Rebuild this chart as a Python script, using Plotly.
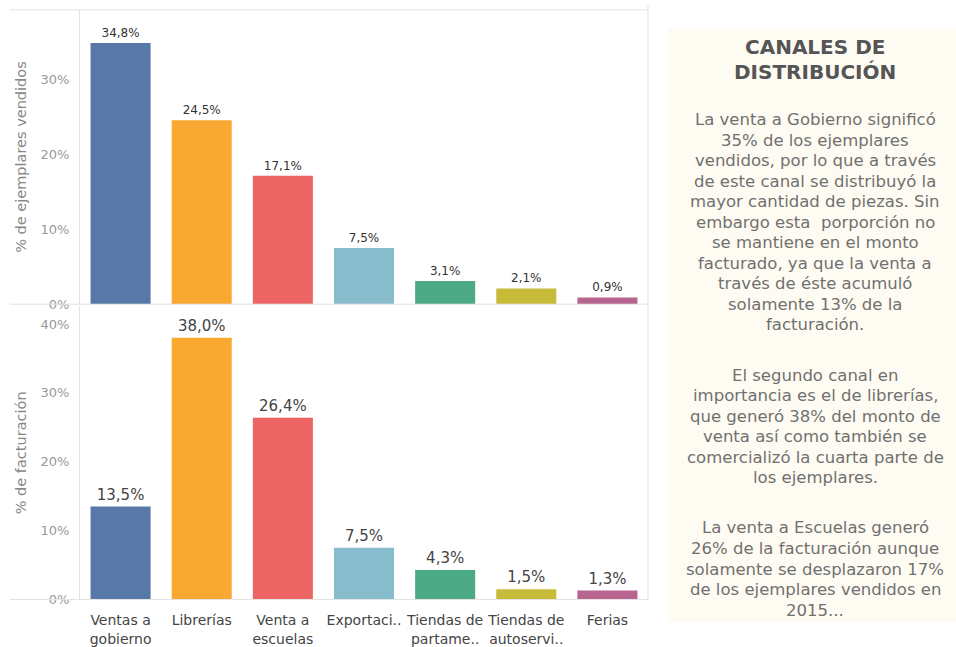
'''
    Canales de distribución: % de ejemplares vendidos y % de facturación.
'''
import plotly.graph_objects as go
from plotly.subplots import make_subplots

categorias = ['Ventas a<br>gobierno', 'Librerías', 'Venta a<br>escuelas', 'Exportaci..',
              'Tiendas de<br>partame..', 'Tiendas de<br>autoservi..', 'Ferias']
ejemplares = [34.8, 24.5, 17.1, 7.5, 3.1, 2.1, 0.9]
facturacion = [13.5, 38.0, 26.4, 7.5, 4.3, 1.5, 1.3]
colores = ['#5778A8', '#F9A831', '#EC6564', '#86BCCB', '#4CAA86', '#C8BB3A', '#B7648E']
ticks_ejemplares = [0, 10, 20, 30]
ticks_facturacion = [0, 10, 20, 30, 40]

titulo = ['CANALES DE', 'DISTRIBUCIÓN']
parrafos = [
    ['La venta a Gobierno significó', '35% de los ejemplares', 'vendidos, por lo que a través',
     'de este canal se distribuyó la', 'mayor cantidad de piezas. Sin',
     'embargo esta  porporción no', 'se mantiene en el monto', 'facturado, ya que la venta a',
     'través de éste acumuló', 'solamente 13% de la', 'facturación.'],
    ['El segundo canal en', 'importancia es el de librerías,', 'que generó 38% del monto de',
     'venta así como también se', 'comercializó la cuarta parte de', 'los ejemplares.'],
    ['La venta a Escuelas generó', '26% de la facturación aunque',
     'solamente se desplazaron 17%', 'de los ejemplares vendidos en', '2015...'],
]

W, H = 956, 647
FONT = 'DejaVu Sans'
LINE = '#e3e3e3'


def px_x(x):
    return x / W


def px_y(y):
    return (H - y) / H


fig = make_subplots(rows=2, cols=1, shared_xaxes=True, vertical_spacing=0.0)

fig.add_trace(go.Bar(
    x=categorias, y=ejemplares, marker_color=colores, marker_line_width=0,
    texttemplate='%{y:.1f}%', textposition='outside', cliponaxis=False,
    textfont=dict(family=FONT, size=12, color='#333333'),
    hovertemplate='%{x}: %{y:.1f}%<extra></extra>',
), row=1, col=1)

fig.add_trace(go.Bar(
    x=categorias, y=facturacion, marker_color=colores, marker_line_width=0,
    texttemplate='%{y:.1f}%', textposition='outside', cliponaxis=False,
    textfont=dict(family=FONT, size=15, color='#444444'),
    hovertemplate='%{x}: %{y:.1f}%<extra></extra>',
), row=2, col=1)

xdom = [px_x(80), px_x(648)]
fig.update_layout(
    width=W, height=H,
    margin=dict(l=0, r=0, t=0, b=0),
    paper_bgcolor='white', plot_bgcolor='white',
    separators=',.',
    showlegend=False,
    bargap=0.26,
    font=dict(family=FONT, color='#888888'),
    xaxis=dict(domain=xdom, showticklabels=False, showgrid=False, ticks=''),
    xaxis2=dict(domain=xdom, showgrid=False, ticks='', ticklabelstandoff=11,
                tickfont=dict(family=FONT, size=14, color='#444444')),
    yaxis=dict(domain=[px_y(308), px_y(10)], range=[0, 39.2],
               tickvals=ticks_ejemplares, ticktext=[f'{v}%' for v in ticks_ejemplares],
               showgrid=False, zeroline=False,
               showline=True, linecolor=LINE, ticks='', ticklabelstandoff=7,
               tickfont=dict(family=FONT, size=13, color='#999999'),
               title=dict(text='% de ejemplares vendidos', standoff=10,
                          font=dict(family=FONT, size=14.5, color='#888888'))),
    yaxis2=dict(domain=[px_y(607), px_y(310)], range=[0, 42.6],
                tickvals=ticks_facturacion, ticktext=[f'{v}%' for v in ticks_facturacion],
                showgrid=False, zeroline=False,
                showline=True, linecolor=LINE, ticks='', ticklabelstandoff=7,
                tickfont=dict(family=FONT, size=13, color='#999999'),
                title=dict(text='% de facturación', standoff=10,
                           font=dict(family=FONT, size=14.5, color='#888888'))),
)

# marco del tablero
lineas = [
    (10, 10, 648, 10),
    (648, 5, 648, 607),
    (10, 308, 648, 308),
    (10, 607, 648, 607),
]
for x0, y0, x1, y1 in lineas:
    fig.add_shape(type='line', xref='paper', yref='paper',
                  x0=px_x(x0), y0=px_y(y0), x1=px_x(x1), y1=px_y(y1),
                  line=dict(color=LINE, width=1))

# panel de texto
fig.add_shape(type='rect', xref='paper', yref='paper', layer='below',
              x0=px_x(668), x1=1.0, y0=px_y(630), y1=px_y(28),
              fillcolor='#FEFCF2', line_width=0)

cx = px_x(815)
for i, t in enumerate(titulo):
    fig.add_annotation(x=cx, y=px_y(48 + 25 * i), xref='paper', yref='paper',
                       xanchor='center', yanchor='middle',
                       text='<b>' + t + '</b>', showarrow=False,
                       font=dict(family=FONT, size=20, color='#555555'))

y = 121
for p in parrafos:
    for linea in p:
        fig.add_annotation(x=cx, y=px_y(y), xref='paper', yref='paper',
                           xanchor='center', yanchor='middle',
                           text=linea, showarrow=False,
                           font=dict(family=FONT, size=16.5, color='#707070'))
        y += 20.8
    y += 30

fig.write_html('out.html', config={'displayModeBar': False},
               post_script="document.body.style.margin='0';document.body.style.overflow='hidden';")
